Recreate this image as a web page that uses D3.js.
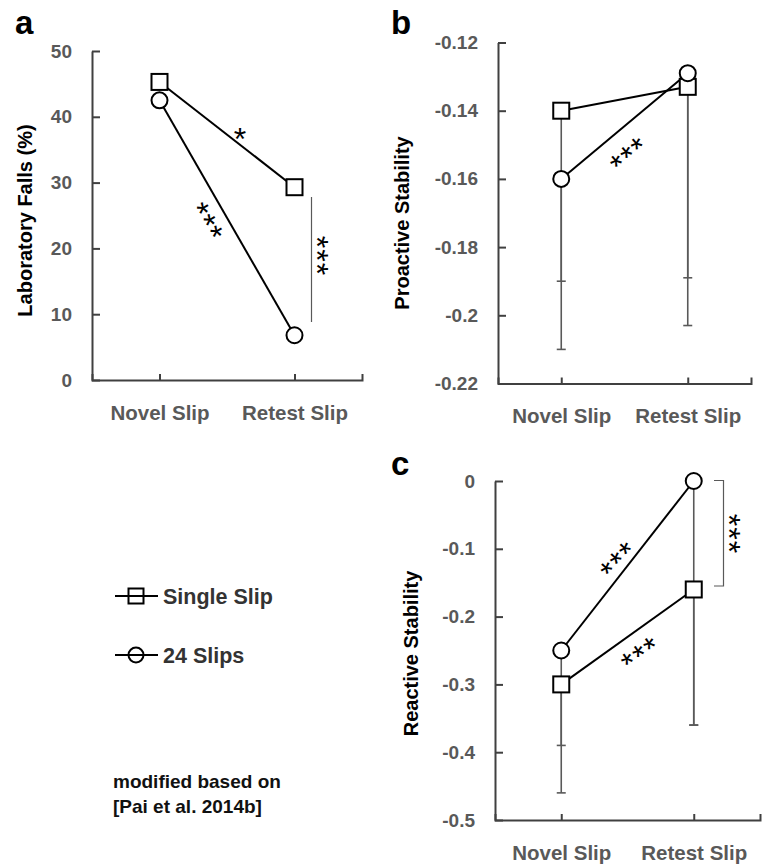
<!DOCTYPE html>
<html>
<head>
<meta charset="utf-8">
<script src="https://cdn.jsdelivr.net/npm/d3@7"></script>
<style>
  body { margin: 0; background: #fff; }
  text { font-family: "Liberation Sans", Arial, sans-serif; font-weight: bold; }
  text.star { font-weight: normal; }
</style>
</head>
<body>
<script>
const width = 766,
      height = 866;

// categories and series
const categories = ["Novel Slip", "Retest Slip"];

// a: laboratory falls (%)
const fallsSingle = [45.3, 29.3];
const falls24 = [42.5, 6.8];
const fallsTicks = [0, 10, 20, 30, 40, 50];

// b: proactive stability (lower error bar ends)
const proSingle = [-0.140, -0.133];
const pro24 = [-0.160, -0.129];
const proSingleLow = [-0.190, -0.189];
const pro24Low = [-0.210, -0.203];
const proTicks = [-0.22, -0.2, -0.18, -0.16, -0.14, -0.12];

// c: reactive stability
const reaSingle = [-0.30, -0.16];
const rea24 = [-0.25, 0];
const reaSingleLow = [-0.39, -0.36];
const rea24Low = [-0.46, -0.36];
const reaTicks = [-0.5, -0.4, -0.3, -0.2, -0.1, 0];

const axisColor = "#404040",
      labelColor = "#595959",
      barColor = "#595959";

const svg = d3.select("body")
    .append("svg")
    .attr("width", width)
    .attr("height", height);

const fmt = d => String(+d.toFixed(2));

const drawPanel = (p) => {
  const x = d3.scalePoint()
      .domain(categories)
      .range([p.left, p.right])
      .padding(0.5);

  const y = d3.scaleLinear()
      .domain(d3.extent(p.ticks))
      .range([p.bottom, p.top]);

  const g = svg.append("g");

  // error bars go underneath everything
  p.series.forEach(s => {
    if (!s.low) return;
    s.values.forEach((v, i) => {
      const cx = x(categories[i]);
      g.append("line")
          .attr("x1", cx).attr("x2", cx)
          .attr("y1", y(v)).attr("y2", y(s.low[i]))
          .attr("stroke", barColor)
          .attr("stroke-width", 1.6);
      g.append("line")
          .attr("x1", cx - 4.5).attr("x2", cx + 4.5)
          .attr("y1", y(s.low[i])).attr("y2", y(s.low[i]))
          .attr("stroke", barColor)
          .attr("stroke-width", 1.6);
    });
  });

  const xAxis = g.append("g")
      .attr("transform", `translate(0,${p.bottom})`)
      .call(d3.axisBottom(x)
        .tickSizeInner(-6)
        .tickSizeOuter(-6)
        .tickPadding(25));

  const yAxis = g.append("g")
      .attr("transform", `translate(${p.left},0)`)
      .call(d3.axisLeft(y)
        .tickValues(p.ticks)
        .tickFormat(fmt)
        .tickSizeInner(-8)
        .tickSizeOuter(0)
        .tickPadding(20));

  [xAxis, yAxis].forEach(ax => {
    ax.attr("font-family", null).attr("font-size", null);
    ax.select(".domain").attr("stroke", axisColor).attr("stroke-width", 2);
    ax.selectAll(".tick line").attr("stroke", axisColor).attr("stroke-width", 2);
    ax.selectAll(".tick text").attr("fill", labelColor);
  });
  xAxis.selectAll(".tick text").attr("font-size", 20.5);
  yAxis.selectAll(".tick text").attr("font-size", 19);

  const line = d3.line()
      .x((d, i) => x(categories[i]))
      .y(d => y(d));

  p.series.forEach(s => {
    g.append("path")
        .datum(s.values)
        .attr("d", line)
        .attr("fill", "none")
        .attr("stroke", "#000")
        .attr("stroke-width", 2);
  });

  p.series.forEach(s => {
    const pts = g.selectAll(null)
        .data(s.values)
        .enter();
    if (s.shape === "square") {
      pts.append("rect")
          .attr("x", (d, i) => x(categories[i]) - 8)
          .attr("y", d => y(d) - 8)
          .attr("width", 16)
          .attr("height", 16)
          .attr("fill", "#fff")
          .attr("stroke", "#000")
          .attr("stroke-width", 2);
    } else {
      pts.append("circle")
          .attr("cx", (d, i) => x(categories[i]))
          .attr("cy", d => y(d))
          .attr("r", 8)
          .attr("fill", "#fff")
          .attr("stroke", "#000")
          .attr("stroke-width", 2);
    }
  });

  // axis title
  g.append("text")
      .attr("transform", `translate(${p.titleX},${(p.top + p.bottom) / 2 + p.titleDy}) rotate(-90)`)
      .attr("text-anchor", "middle")
      .attr("font-size", 20)
      .attr("fill", "#000")
      .text(p.title);

  // panel letter
  g.append("text")
      .attr("x", p.letterX)
      .attr("y", p.letterY)
      .attr("font-size", 33)
      .attr("fill", "#000")
      .text(p.letter);

  // significance brackets and stars
  (p.brackets || []).forEach(b => {
    g.append("path")
        .attr("d", b.d)
        .attr("fill", "none")
        .attr("stroke", barColor)
        .attr("stroke-width", 1.2);
  });
  (p.stars || []).forEach(s => {
    g.append("text")
        .attr("class", "star")
        .attr("transform", `translate(${s.x},${s.y}) rotate(${s.rot})`)
        .attr("text-anchor", "middle")
        .attr("dy", "0.58em")
        .attr("font-size", 32)
        .attr("letter-spacing", s.text.length > 1 ? 1 : 0)
        .attr("fill", "#000")
        .text(s.text);
  });
};

drawPanel({
  letter: "a", letterX: 15, letterY: 34,
  left: 92, right: 362, top: 51, bottom: 380,
  ticks: fallsTicks,
  title: "Laboratory Falls (%)", titleX: 32, titleDy: 5,
  series: [
    { shape: "square", values: fallsSingle },
    { shape: "circle", values: falls24 }
  ],
  brackets: [{ d: "M311.5,197V322" }],
  stars: [
    { text: "*", x: 240, y: 131, rot: 0 },
    { text: "***", x: 212, y: 219, rot: 60 },
    { text: "***", x: 325, y: 256, rot: 90 }
  ]
});

drawPanel({
  letter: "b", letterX: 391, letterY: 34,
  left: 498, right: 751, top: 42.5, bottom: 383.5,
  ticks: proTicks,
  title: "Proactive Stability", titleX: 409, titleDy: 10,
  series: [
    { shape: "square", values: proSingle, low: proSingleLow },
    { shape: "circle", values: pro24, low: pro24Low }
  ],
  stars: [
    { text: "***", x: 625, y: 150, rot: -40 }
  ]
});

drawPanel({
  letter: "c", letterX: 391, letterY: 475,
  left: 495, right: 760, top: 481, bottom: 820,
  ticks: reaTicks,
  title: "Reactive Stability", titleX: 418, titleDy: 3,
  series: [
    { shape: "square", values: reaSingle, low: reaSingleLow },
    { shape: "circle", values: rea24, low: rea24Low }
  ],
  brackets: [{ d: "M714,480.5H723.5V586H714" }],
  stars: [
    { text: "***", x: 614, y: 556, rot: -47 },
    { text: "***", x: 637, y: 649, rot: -35 },
    { text: "***", x: 737, y: 534, rot: 90 }
  ]
});

// legend
const legend = svg.append("g");
const legendItems = ["Single Slip", "24 Slips"];
const legendShapes = ["square", "circle"];
legendItems.forEach((name, i) => {
  const cy = 596 + i * 59;
  legend.append("line")
      .attr("x1", 115).attr("x2", 158)
      .attr("y1", cy).attr("y2", cy)
      .attr("stroke", "#000").attr("stroke-width", 2);
  if (legendShapes[i] === "square") {
    legend.append("rect")
        .attr("x", 128.5).attr("y", cy - 7.5)
        .attr("width", 15).attr("height", 15)
        .attr("fill", "none").attr("stroke", "#000").attr("stroke-width", 2);
  } else {
    legend.append("circle")
        .attr("cx", 136).attr("cy", cy).attr("r", 7.5)
        .attr("fill", "none").attr("stroke", "#000").attr("stroke-width", 2);
  }
  legend.append("text")
      .attr("x", 163).attr("y", cy + 7.5)
      .attr("font-size", 21.5)
      .attr("fill", "#333")
      .text(name);
});

svg.append("text")
    .attr("x", 113).attr("y", 788)
    .attr("font-size", 19)
    .attr("fill", "#111")
    .text("modified based on");
svg.append("text")
    .attr("x", 113).attr("y", 813)
    .attr("font-size", 19)
    .attr("fill", "#111")
    .text("[Pai et al. 2014b]");
</script>
</body>
</html>
